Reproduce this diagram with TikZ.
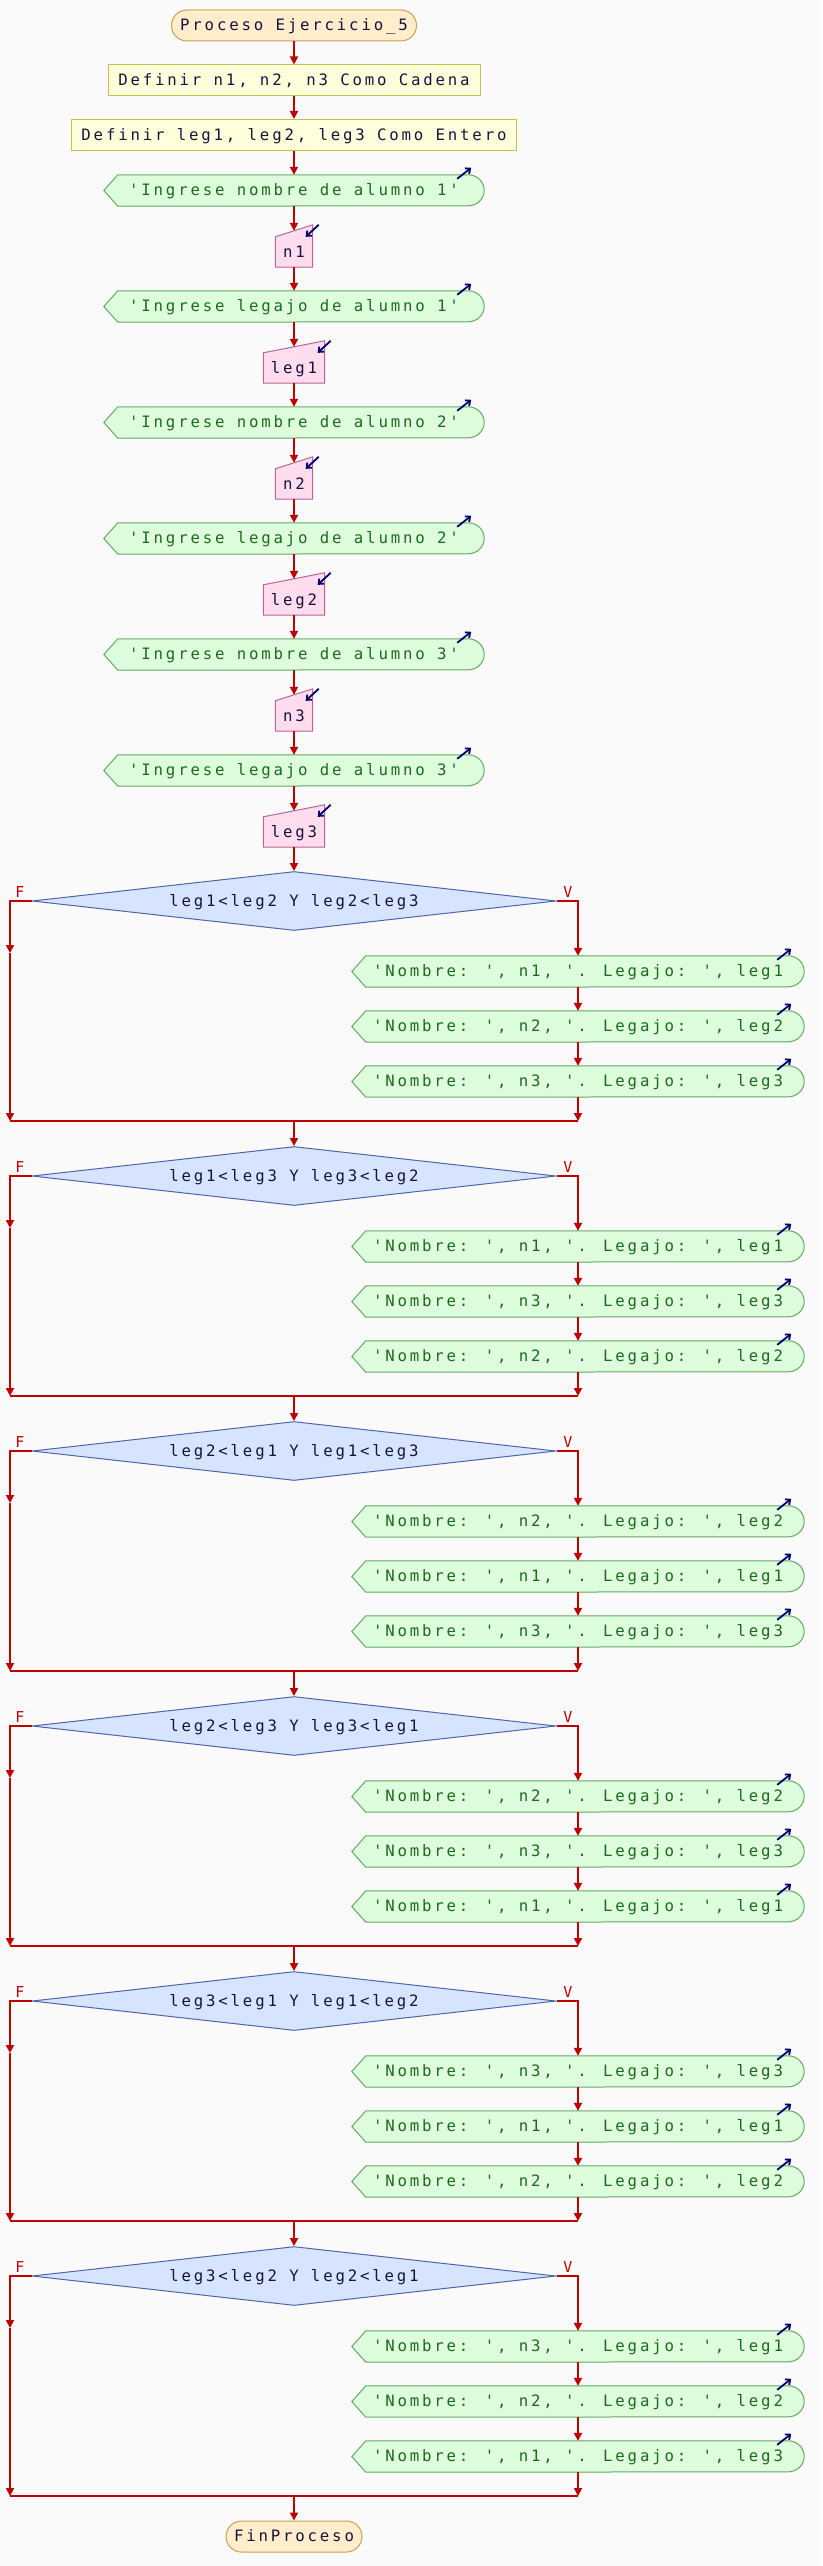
\documentclass[tikz,border=0pt]{standalone}
\usepackage{fontspec}
\newfontfamily\pfont{DejaVu Sans Mono}[LetterSpace=18]
\usetikzlibrary{arrows.meta,shapes.geometric,calc}
\pgfdeclarelayer{bg}\pgfdeclarelayer{shp}\pgfsetlayers{bg,shp,main}
\definecolor{bgcol}{RGB}{250,250,250}
\definecolor{termfill}{RGB}{255,237,204}
\definecolor{termline}{RGB}{200,160,90}
\definecolor{deffill}{RGB}{255,255,220}
\definecolor{defline}{RGB}{200,190,80}
\definecolor{outfill}{RGB}{221,253,221}
\definecolor{outline}{RGB}{100,170,100}
\definecolor{outtext}{RGB}{30,105,30}
\definecolor{infill}{RGB}{255,221,238}
\definecolor{inline}{RGB}{190,100,150}
\definecolor{diafill}{RGB}{215,228,255}
\definecolor{dialine}{RGB}{80,100,170}
\definecolor{darktext}{RGB}{20,20,60}
\definecolor{redline}{RGB}{190,0,0}
\definecolor{navy}{RGB}{0,0,110}
\tikzset{
  base/.style={font=\pfont\fontsize{15.7}{19}\selectfont, inner sep=0pt, text height=12pt, text depth=1.5pt},
  outtxt/.style={base, text=outtext, minimum height=31pt},
  intxt/.style={base, text=darktext, minimum height=30pt},
  term/.style={base, text=darktext, draw=termline, fill=termfill, line width=1pt, rounded corners=15.5pt, minimum height=31pt},
  defbox/.style={base, text=darktext, draw=defline, fill=deffill, line width=1pt, minimum height=31pt},
  dia/.style={base, shape=diamond, shape aspect=9, text=darktext, draw=dialine, fill=diafill, line width=1pt, minimum width=524pt, minimum height=59pt},
  outshape/.style={draw=outline, fill=outfill, line width=1pt},
  inshape/.style={draw=inline, fill=infill, line width=1pt},
  icon/.style={draw=navy, line width=1.8pt, -{Straight Barb[length=4pt,width=7pt]}},
  arr/.style={draw=redline, line width=1.8pt, -{Triangle[length=8pt,width=8pt]}},
  jl/.style={draw=redline, line width=2.6pt},
  flab/.style={font=\pfont\fontsize{15}{17}\selectfont, text=redline, inner sep=0pt}
}
\newcommand\OutNode[5]{%
  \node[outtxt, minimum width=#4pt] (#1) at (#2,#3) {#5};
  \begin{pgfonlayer}{shp}
  \draw[outshape] (#1.west) -- ($(#1.north west)+(14,0)$) -- ($(#1.north east)+(-16,0)$)
    arc[start angle=-90, end angle=90, x radius=16, y radius=15.5]
    -- ($(#1.south west)+(14,0)$) -- cycle;
  \end{pgfonlayer}
  \draw[icon] ($(#1.north east)+(-27,4)$) -- ($(#1.north east)+(-13,-7)$);
}
\newcommand\InNode[5]{%
  \node[intxt, minimum width=#4pt] (#1) at (#2,#3) {#5};
  \coordinate (#1-top) at ($(#1.north)+(0,-6)$);
  \begin{pgfonlayer}{shp}
  \draw[inshape] (#1.south west) -- (#1.north west) -- ($(#1.north east)+(0,-12)$) -- (#1.south east) -- cycle;
  \end{pgfonlayer}
  \draw[icon] ($(#1.north east)+(6,-12)$) -- ($(#1.north east)+(-7,0)$);
}
\newcommand\Block[6]{%
  \node[dia] (d#1) at (294,#2) {#3};
  \node[flab] (f#1) at (20,#2-9) {F};
  \node[flab] (v#1) at (568,#2-9) {V};
  \OutNode{o#1a}{578}{#2+70.5}{452}{#4}
  \OutNode{o#1b}{578}{#2+125.5}{452}{#5}
  \OutNode{o#1c}{578}{#2+180.5}{452}{#6}
  \coordinate (d#1Fm) at (10,#2+52);
  \coordinate (d#1Fb) at (10,#2+220);
  \coordinate (d#1Vb) at (578,#2+220);
  \coordinate (d#1J) at (294,#2+220);
  \draw[jl] (d#1Fb) -- (d#1Vb);
  \draw[arr] (d#1.west) -| (d#1Fm);
  \draw[arr] (d#1Fm) -- (d#1Fb);
  \draw[arr] (d#1.east) -| (o#1a.north);
  \draw[arr] (o#1a) -- (o#1b);
  \draw[arr] (o#1b) -- (o#1c);
  \draw[arr] (o#1c) -- (d#1Vb);
}
\begin{document}
\begin{tikzpicture}[x=1pt,y=-1pt]
\begin{pgfonlayer}{bg}
\fill[bgcol] (0,0) rectangle (822,2566);
\end{pgfonlayer}
\useasboundingbox (0,0) rectangle (822,2566);
\node[term, minimum width=245pt] (proc) at (294,25.5) {Proceso Ejercicio\_5};
\node[defbox, minimum width=372pt] (def1) at (294,80.5) {Definir n1, n2, n3 Como Cadena};
\node[defbox, minimum width=445pt] (def2) at (294,135) {Definir leg1, leg2, leg3 Como Entero};
\OutNode{p1}{294}{190.5}{380}{'Ingrese nombre de alumno 1'}
\InNode{i1}{294}{252}{37}{n1}
\OutNode{p2}{294}{306.5}{380}{'Ingrese legajo de alumno 1'}
\InNode{i2}{294}{368}{61}{leg1}
\OutNode{p3}{294}{422.5}{380}{'Ingrese nombre de alumno 2'}
\InNode{i3}{294}{484}{37}{n2}
\OutNode{p4}{294}{538.5}{380}{'Ingrese legajo de alumno 2'}
\InNode{i4}{294}{600}{61}{leg2}
\OutNode{p5}{294}{654.5}{380}{'Ingrese nombre de alumno 3'}
\InNode{i5}{294}{716}{37}{n3}
\OutNode{p6}{294}{770.5}{380}{'Ingrese legajo de alumno 3'}
\InNode{i6}{294}{832}{61}{leg3}
\draw[arr] (proc) -- (def1);
\draw[arr] (def1) -- (def2);
\draw[arr] (def2) -- (p1);
\draw[arr] (p1) -- (i1-top);
\draw[arr] (i1) -- (p2);
\draw[arr] (p2) -- (i2-top);
\draw[arr] (i2) -- (p3);
\draw[arr] (p3) -- (i3-top);
\draw[arr] (i3) -- (p4);
\draw[arr] (p4) -- (i4-top);
\draw[arr] (i4) -- (p5);
\draw[arr] (p5) -- (i5-top);
\draw[arr] (i5) -- (p6);
\draw[arr] (p6) -- (i6-top);
\Block{1}{901}{leg1<leg2 Y leg2<leg3}{'Nombre: ', n1, '. Legajo: ', leg1}{'Nombre: ', n2, '. Legajo: ', leg2}{'Nombre: ', n3, '. Legajo: ', leg3}
\Block{2}{1176}{leg1<leg3 Y leg3<leg2}{'Nombre: ', n1, '. Legajo: ', leg1}{'Nombre: ', n3, '. Legajo: ', leg3}{'Nombre: ', n2, '. Legajo: ', leg2}
\Block{3}{1451}{leg2<leg1 Y leg1<leg3}{'Nombre: ', n2, '. Legajo: ', leg2}{'Nombre: ', n1, '. Legajo: ', leg1}{'Nombre: ', n3, '. Legajo: ', leg3}
\Block{4}{1726}{leg2<leg3 Y leg3<leg1}{'Nombre: ', n2, '. Legajo: ', leg2}{'Nombre: ', n3, '. Legajo: ', leg3}{'Nombre: ', n1, '. Legajo: ', leg1}
\Block{5}{2001}{leg3<leg1 Y leg1<leg2}{'Nombre: ', n3, '. Legajo: ', leg3}{'Nombre: ', n1, '. Legajo: ', leg1}{'Nombre: ', n2, '. Legajo: ', leg2}
\Block{6}{2276}{leg3<leg2 Y leg2<leg1}{'Nombre: ', n3, '. Legajo: ', leg1}{'Nombre: ', n2, '. Legajo: ', leg2}{'Nombre: ', n1, '. Legajo: ', leg3}
\node[term, minimum width=136pt] (fin) at (294,2536.5) {FinProceso};
\draw[arr] (i6) -- (d1);
\draw[arr] (d1J) -- (d2);
\draw[arr] (d2J) -- (d3);
\draw[arr] (d3J) -- (d4);
\draw[arr] (d4J) -- (d5);
\draw[arr] (d5J) -- (d6);
\draw[arr] (d6J) -- (fin);
\end{tikzpicture}
\end{document}
